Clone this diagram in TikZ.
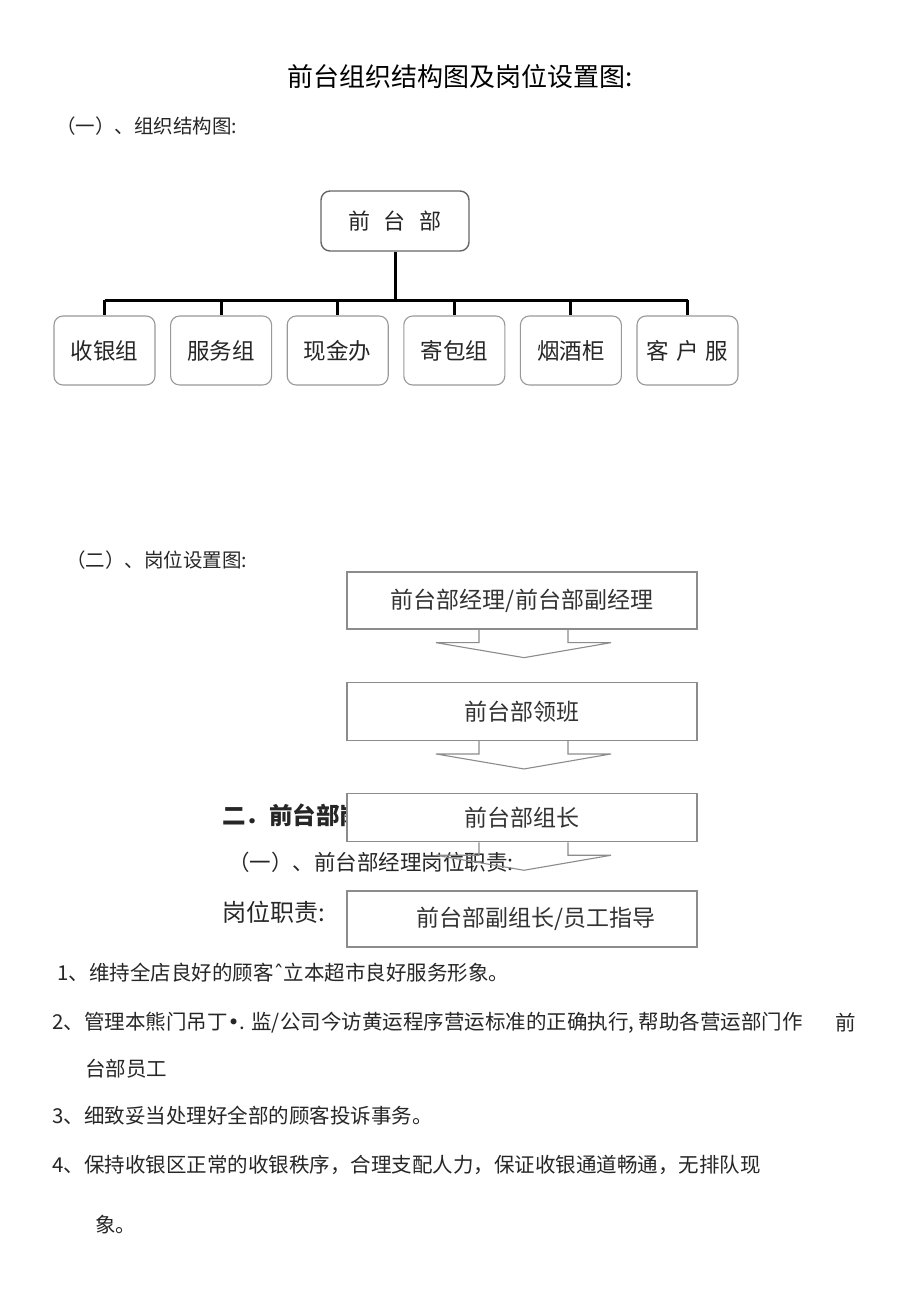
\documentclass[tikz,border=0pt]{standalone}
\usepackage{fontspec}
\setmainfont{Noto Sans CJK SC}
\newfontfamily\symfont{DejaVu Sans}
\usetikzlibrary{positioning, calc}
\colorlet{drawColor}{black!40}
\colorlet{textColor}{black!85}
\tikzset{
  deptBox/.style={rectangle, rounded corners=9pt, draw=black!60, line width=1.4pt,
    minimum width=148pt, minimum height=60pt, text=textColor,
    font=\fontsize{22}{26}\selectfont},
  orgBox/.style={rectangle, rounded corners=9pt, draw=drawColor, line width=1.1pt,
    minimum width=101pt, minimum height=69pt, text=textColor,
    font=\fontsize{22.5}{26}\selectfont},
  link/.style={line width=3pt, draw=black},
  flowBox/.style={rectangle, draw=black!45, line width=1.3pt, fill=white,
    minimum width=350pt, minimum height=58pt, text=black!80,
    font=\fontsize{23}{27}\selectfont},
  flowArrow/.style={draw=black!45, line width=1.1pt, line join=miter},
  txt/.style={anchor=west, inner sep=0pt, text=textColor,
    font=\fontsize{20.5}{24}\selectfont}
}
\begin{document}
\begin{tikzpicture}[x=1pt, y=-1pt]
  \useasboundingbox (0,0) rectangle (920,1301);
  \fill [white] (0,0) rectangle (920,1301);
  % headings
  \node(title) [inner sep=0pt, font=\fontsize{26}{30}\selectfont] at (460,77)
  {前台组织结构图及岗位设置图:};
  \node(secOne) [txt, font=\fontsize{19.5}{23}\selectfont] at (56,126) {（一）、组织结构图:};
  % organisation chart
  \node(dept) [deptBox] at (395,221) {前\hspace{14pt}台\hspace{14pt}部};
  \node(cashier) [orgBox] at (104.5,350.5) {收银组};
  \node(service) [orgBox, right=14.5pt of cashier] {服务组};
  \node(cash) [orgBox, right=14.5pt of service] {现金办};
  \node(baggage) [orgBox, right=14.5pt of cash] {寄包组};
  \node(tobacco) [orgBox, right=14.5pt of baggage] {烟酒柜};
  \node(custSvc) [orgBox, right=14.5pt of tobacco] {客\hspace{7pt}户\hspace{7pt}服};
  \coordinate (bar) at (0,300);
  \draw [link] (dept.south) -- (dept.south |- bar);
  \draw [link] (cashier.north |- bar) -- (custSvc.north |- bar);
  \foreach \n in {cashier,service,cash,baggage,tobacco,custSvc}
    \draw [link] (\n.north |- bar) -- (\n.north);
  % post chart
  \node(secTwo) [txt, font=\fontsize{19.5}{23}\selectfont] at (66,560) {（二）、岗位设置图:};
  \node(dutyHead) [txt, font=\bfseries\fontsize{23.5}{27}\selectfont] at (222,815) {二．前台部岗位职责};
  \node(mgrDuty) [txt, font=\fontsize{21.5}{25}\selectfont] at (228,862) {（一）、前台部经理岗位职责:};
  \node(dutyLabel) [txt, font=\fontsize{24}{28}\selectfont] at (222,912) {岗位职责:};
  \node(mgr) [flowBox, minimum height=57pt] at (522,600.5) {前台部经理/前台部副经理};
  \node(lead) [flowBox, below=52pt of mgr] {前台部领班};
  \node(head) [flowBox, minimum height=48pt, below=52pt of lead] {前台部组长};
  \node(deputy) [flowBox, minimum height=56pt, below=48pt of head]
  {\hspace*{28pt}前台部副组长/员工指导};
  \foreach \n in {mgr,lead,head}
    \draw [flowArrow] ($(\n.south)+(-43,0)$) -- ++(0,13) -- ++(-43,0)
      -- ($(\n.south)+(2,28)$) -- ($(\n.south)+(89,13)$) -- ++(-43,0) -- ++(0,-13);
  % duties
  \node(itemOne) [txt] at (57,973) {1、维持全店良好的顾客{\symfont ˆ}立本超市良好服务形象。};
  \node(itemTwo) [txt] at (52,1023)
  {2、管理本熊门吊丁{\symfont •}. 监/公司今访黄运程序营运标准的正确执行, 帮助各营运部门作};
  \node(itemTwoEnd) [txt] at (835,1023) {前};
  \node(itemTwoCont) [txt] at (85,1069) {台部员工};
  \node(itemThree) [txt] at (52,1116) {3、细致妥当处理好全部的顾客投诉事务。};
  \node(itemFour) [txt] at (52,1165)
  {4、保持收银区正常的收银秩序，合理支配人力，保证收银通道畅通，无排队现};
  \node(itemFourCont) [txt] at (95,1225) {象。};
\end{tikzpicture}
\end{document}
